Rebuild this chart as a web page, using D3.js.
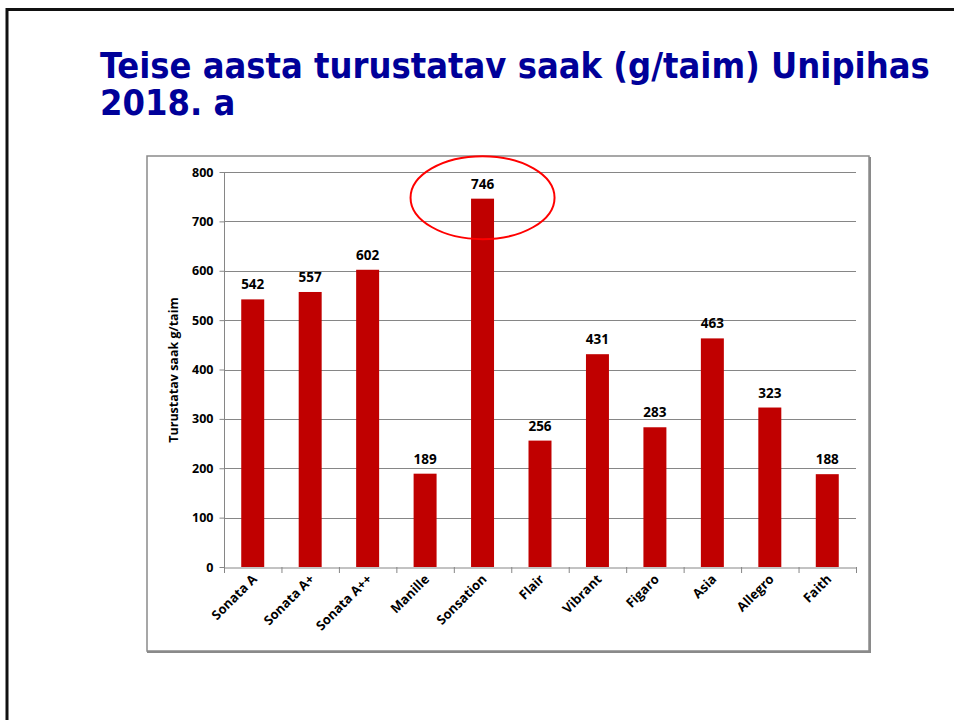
<!DOCTYPE html>
<html><head><meta charset="utf-8">
<script src="https://cdn.jsdelivr.net/npm/d3@7"></script>
<style>body{margin:0;background:#fff}svg{display:block}</style>
</head><body>
<script>
const categories = ["Sonata A","Sonata A+","Sonata A++","Manille","Sonsation","Flair","Vibrant","Figaro","Asia","Allegro","Faith"];
const values = [542,557,602,189,746,256,431,283,463,323,188];
const yTicks = [0,100,200,300,400,500,600,700,800];
const titleLines = ["Teise aasta turustatav saak (g/taim) Unipihas","2018. a"];
const yLabel = "Turustatav saak g/taim";
const highlight = "Sonsation";

const W=954,H=720;
const svg=d3.select("body").append("svg").attr("width",W).attr("height",H);

// slide frame
svg.append("line").attr("x1",7).attr("x2",W).attr("y1",9.5).attr("y2",9.5).attr("stroke","#111").attr("stroke-width",3);
svg.append("line").attr("x1",7).attr("x2",7).attr("y1",8).attr("y2",H).attr("stroke","#111").attr("stroke-width",3);

// title
const tg=svg.append("g").attr("font-family","'DejaVu Sans Condensed','DejaVu Sans',sans-serif").attr("font-stretch","condensed").attr("font-weight","bold").attr("fill","#000099");
titleLines.forEach((t,i)=>{
  tg.append("text").attr("x",100).attr("y",78+i*37).attr("font-size",32).text(t);
});
const first=tg.select("text").node();
const len=first.getComputedTextLength();
const fs=32*830/len;
tg.selectAll("text").attr("font-size",Math.min(fs,36));

// chart box
svg.append("rect").attr("x",147).attr("y",156).attr("width",722).attr("height",495).attr("fill","#fff").attr("stroke","#8a8a8a").attr("stroke-width",1.5);
svg.append("line").attr("x1",870).attr("x2",870).attr("y1",157).attr("y2",653).attr("stroke","#8a8a8a").attr("stroke-width",2);
svg.append("line").attr("x1",147).attr("x2",871).attr("y1",652).attr("y2",652).attr("stroke","#8a8a8a").attr("stroke-width",2);

const x=d3.scaleBand().domain(categories).range([224,856]).paddingInner(0.6).paddingOuter(0.3);
const xb=d3.scaleBand().domain(categories).range([224,856]);
const y=d3.scaleLinear().domain([0,800]).range([567,172]);

const font="'Open Sans',Calibri,sans-serif";

// gridlines
svg.append("g").selectAll("line").data(yTicks.filter(d=>d>0)).join("line")
  .attr("x1",224).attr("x2",856).attr("y1",d=>Math.round(y(d))+0.5).attr("y2",d=>Math.round(y(d))+0.5)
  .attr("stroke","#868686").attr("stroke-width",1);

// y axis
const ya=svg.append("g").attr("transform","translate(224.5,0)").call(d3.axisLeft(y).tickValues(yTicks).tickSize(5).tickPadding(6));
ya.select(".domain").attr("stroke","#868686").attr("d","M0,172V567.5");
ya.selectAll(".tick line").attr("stroke","#868686");
ya.selectAll("text").attr("font-family",font).attr("font-weight","bold").attr("font-size",12.5).attr("fill","#000");

// bars
svg.append("g").selectAll("rect").data(values).join("rect")
  .attr("x",(d,i)=>x(categories[i])).attr("width",x.bandwidth())
  .attr("y",d=>y(d)).attr("height",d=>y(0)-y(d)).attr("fill","#c00000");

// x axis
const xa=svg.append("g").attr("transform","translate(0,567.5)").call(d3.axisBottom(xb).tickSize(0).tickFormat(""));
xa.select(".domain").attr("stroke","#868686");
svg.append("g").selectAll("line").data(d3.range(categories.length+1)).join("line")
  .attr("x1",i=>224.5+i*xb.step()).attr("x2",i=>224.5+i*xb.step()).attr("y1",567).attr("y2",573).attr("stroke","#868686");
svg.append("g").selectAll("text").data(categories).join("text")
  .attr("transform",d=>`translate(${xb(d)+xb.bandwidth()/2+5},${580}) rotate(-45)`)
  .attr("text-anchor","end").attr("font-family",font).attr("font-weight","bold").attr("font-size",13).text(d=>d);

// value labels
svg.append("g").selectAll("text").data(values).join("text")
  .attr("x",(d,i)=>xb(categories[i])+xb.bandwidth()/2).attr("y",d=>y(d)-10)
  .attr("text-anchor","middle").attr("font-family",font).attr("font-weight","bold").attr("font-size",13.5).text(d=>d);

// y label
svg.append("text").attr("transform","translate(178,370) rotate(-90)").attr("text-anchor","middle")
  .attr("font-family",font).attr("font-weight","bold").attr("font-size",12.5).text(yLabel);

// highlight ellipse
const hi=categories.indexOf(highlight);
svg.append("ellipse").attr("cx",xb(highlight)+xb.bandwidth()/2).attr("cy",y(values[hi])-1).attr("rx",72).attr("ry",41.5)
  .attr("fill","none").attr("stroke","#ff0000").attr("stroke-width",2);
</script>
</body></html>
